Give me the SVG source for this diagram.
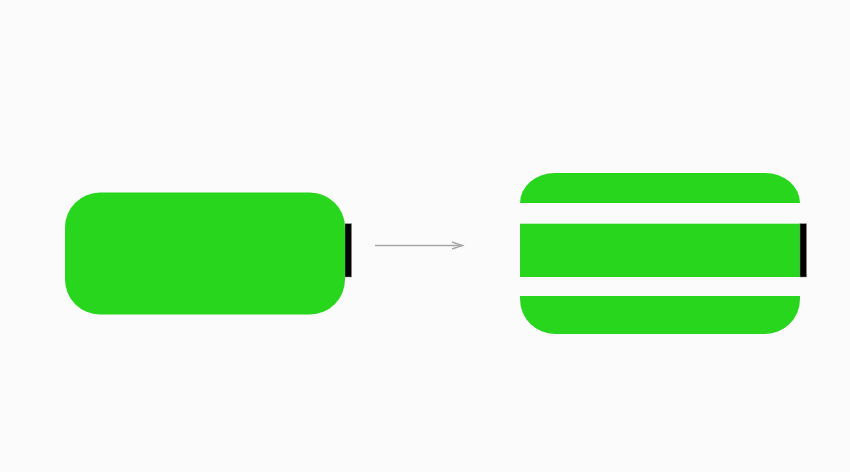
<svg xmlns="http://www.w3.org/2000/svg" width="850" height="472" viewBox="0 0 850 472">
<style>
.g{fill:#28d61e}
.t{fill:#000;stroke:#888;stroke-width:.5}
.c{fill:none;stroke:#a8a8a8;stroke-width:1.4}
</style>
<rect width="850" height="472" fill="#fbfbfb"/>
<g id="battery-before">
<rect class="t" x="345" y="223.7" width="6.5" height="53.3"/>
<rect class="g" x="65" y="192.5" width="280" height="122" rx="35" ry="35"/>
</g>
<g id="battery-after">
<path class="g" d="M520 203A35 30 0 0 1 555 173H765A35 30 0 0 1 800 203Z"/>
<rect class="g" x="520" y="223.7" width="280" height="53.3"/>
<path class="g" d="M520 296H800V299A35 35 0 0 1 765 334H555A35 35 0 0 1 520 299Z"/>
<rect class="t" x="800" y="223.7" width="6.5" height="53.3"/>
</g>
<g id="connectors">
<path class="c" d="M375 245.5H462"/>
<path class="c" d="M452 242L462.500 245.500L452 249"/>
</g>
</svg>
